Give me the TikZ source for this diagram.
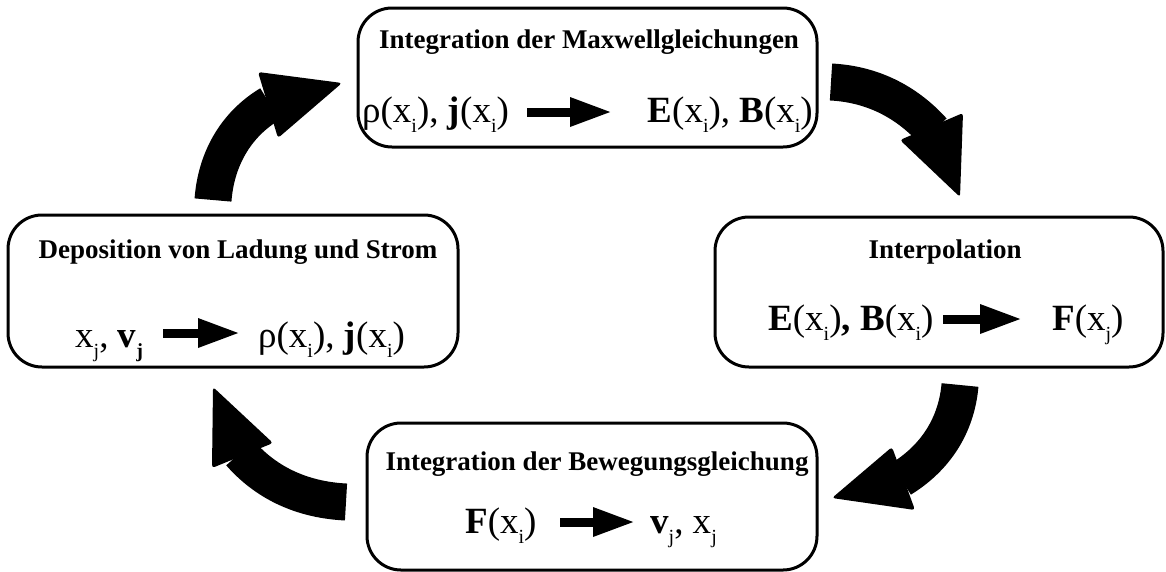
\documentclass[tikz,border=0pt]{standalone}
\usepackage{fontspec}
\setmainfont{Liberation Serif}
\usetikzlibrary{arrows.meta}
\newcommand\sbi[1]{\raisebox{-10pt}{\fontsize{20}{20}\selectfont #1}}
\begin{document}
\begin{tikzpicture}[x=1pt,y=-1pt,
  box/.style={draw, line width=3pt, rounded corners=34pt, inner sep=0pt},
  ttl/.style={anchor=base, font=\fontsize{27}{31}\selectfont\bfseries, inner sep=0pt},
  mthl/.style={anchor=base west, font=\fontsize{37}{41}\selectfont, inner sep=0pt},
  mthr/.style={anchor=base east, font=\fontsize{37}{41}\selectfont, inner sep=0pt},
  small/.style={line width=9pt, -{Triangle[length=42pt,width=27pt]}},
  big/.style={line width=37pt},
  head/.style={fill, rounded corners=3pt}]
\useasboundingbox (0,0) rectangle (1166,571);

% boxes
\node[box, minimum width=459pt, minimum height=139pt] (top) at (587.5,77.5) {};
\node[box, minimum width=450pt, minimum height=152pt] (left) at (233,291) {};
\node[box, minimum width=448pt, minimum height=150pt] (right) at (939,292) {};
\node[box, minimum width=450pt, minimum height=147pt] (bottom) at (592,496.5) {};

% top box
\node[ttl] (ttop) at (589,48) {Integration der Maxwellgleichungen};
\node[mthl] (tl) at (362,122) {ρ(x\sbi{i}), \textbf{j}(x\sbi{i})};
\node[mthr] (tr) at (813,122) {\textbf{E}(x\sbi{i}), \textbf{B}(x\sbi{i})};
\coordinate (ta1) at (527,112);
\coordinate (ta2) at (612,112);
\draw[small] (ta1) -- (ta2);

% left box
\node[ttl] (tleft) at (238,258) {Deposition von Ladung und Strom};
\node[mthl] (ll) at (75,347) {x\sbi{j}, \textbf{v}\sbi{\textbf{j}}};
\node[mthl] (lr) at (258,347) {ρ(x\sbi{i}), \textbf{j}(x\sbi{i})};
\coordinate (la1) at (163,333);
\coordinate (la2) at (240,333);
\draw[small] (la1) -- (la2);

% right box
\node[ttl] (tright) at (945,258) {Interpolation};
\node[mthl] (rl) at (768,330) {\textbf{E}(x\sbi{i})\textbf{,} \textbf{B}(x\sbi{i})};
\node[mthl] (rr) at (1052,330) {\textbf{F}(x\sbi{j})};
\coordinate (ra1) at (943,319);
\coordinate (ra2) at (1022,319);
\draw[small] (ra1) -- (ra2);

% bottom box
\node[ttl] (tbottom) at (597,470) {Integration der Bewegungsgleichung};
\node[mthl] (bl) at (465,533) {\textbf{F}(x\sbi{i})};
\node[mthl] (br) at (650,533) {\textbf{v}\sbi{j}, x\sbi{j}};
\coordinate (ba1) at (560,522);
\coordinate (ba2) at (635,522);
\draw[small] (ba1) -- (ba2);

% big curved arrows
% left -> top
\coordinate (a1s) at (213,200);
\coordinate (a1e) at (270,104);
\draw[big] (a1s) .. controls (216,160) and (235,125) .. (a1e);
\fill[head] (258,72) -- (342,83) -- (278,138) -- cycle;

% top -> right
\coordinate (a2s) at (831,82);
\coordinate (a2e) at (933,131);
\draw[big] (a2s) .. controls (870,84) and (905,100) .. (a2e);
\fill[head] (900,140) -- (963,113) -- (960,197) -- cycle;

% right -> bottom
\coordinate (a3s) at (960,385);
\coordinate (a3e) at (901,479);
\draw[big] (a3s) .. controls (957,420) and (940,455) .. (a3e);
\fill[head] (892,447) -- (915,510) -- (832,498) -- cycle;

% bottom -> left
\coordinate (a4s) at (346,502);
\coordinate (a4e) at (240,453);
\draw[big] (a4s) .. controls (305,500) and (268,485) .. (a4e);
\fill[head] (213,387) -- (273,443) -- (212,468) -- cycle;
\end{tikzpicture}
\end{document}
